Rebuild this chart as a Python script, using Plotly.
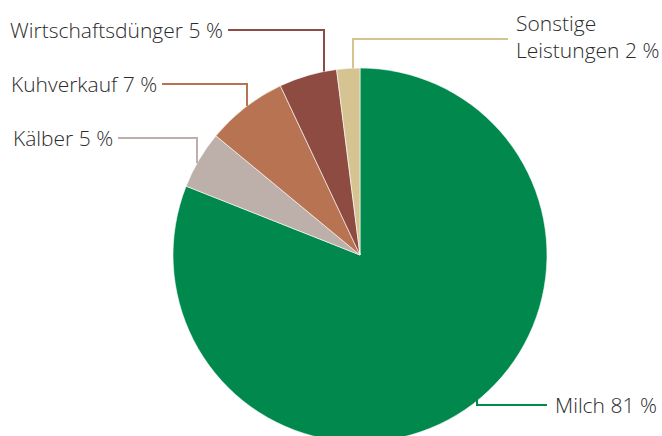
import math
import plotly.graph_objects as go

# Revenue shares (percent), clockwise from 12 o'clock
labels = ["Milch", "Kälber", "Kuhverkauf", "Wirtschaftsdünger", "Sonstige Leistungen"]
shares = [81, 5, 7, 5, 2]
label_text = ["Milch 81 %", "Kälber 5 %", "Kuhverkauf 7 %", "Wirtschaftsdünger 5 %", "Sonstige<br>Leistungen 2 %"]
colors = ["#00884d", "#bdb0aa", "#b87452", "#8e4b41", "#d5c491"]

W, H = 662, 450
CX, CY, R = 360, 255, 187  # pie centre and radius in pixels


def px(x):
    return x / W


def py(y):
    return (H - y) / H


fig = go.Figure(go.Pie(
    labels=labels,
    values=shares,
    sort=False,
    direction="clockwise",
    rotation=0,
    marker=dict(colors=colors, line=dict(color="white", width=0.6)),
    textinfo="none",
    hoverinfo="label+percent",
    domain=dict(x=[px(CX - R), px(CX + R)], y=[py(CY + R), py(CY - R)]),
    showlegend=False,
))

# Leader-line layout: (elbow x, label-row y, label x, side)
leaders = {
    "Milch": (477, 405, 547, "right"),
    "Kälber": (197, 138, 118, "left"),
    "Kuhverkauf": (247, 84, 162, "left"),
    "Wirtschaftsdünger": (324, 30, 228, "left"),
    "Sonstige Leistungen": (353, 39, 508, "right"),
}

for name, txt, col in zip(labels, label_text, colors):
    ex, ry, lx, side = leaders[name]
    # point where the vertical stub meets the pie rim
    dx = ex - CX
    dy = math.sqrt(max(R * R - dx * dx, 0))
    edge_y = CY - dy if ry < CY else ry - 6
    fig.add_shape(
        type="path",
        path=f"M {px(ex)} {py(edge_y)} L {px(ex)} {py(ry)} L {px(lx)} {py(ry)}",
        xref="paper", yref="paper",
        line=dict(color=col, width=2),
    )
    if side == "left":
        fig.add_annotation(x=px(lx - 3), y=py(ry), xref="paper", yref="paper",
                           text=txt, showarrow=False, xanchor="right", yanchor="middle",
                           align="right")
    else:
        tx = lx + 6
        ty = ry if "<br>" not in txt else ry - 2
        fig.add_annotation(x=px(tx), y=py(ty), xref="paper", yref="paper",
                           text=txt, showarrow=False, xanchor="left", yanchor="middle",
                           align="left")

fig.update_layout(
    width=W, height=H,
    margin=dict(l=0, r=0, t=0, b=0),
    paper_bgcolor="white",
    plot_bgcolor="white",
    font=dict(family="Open Sans, Lato, sans-serif", size=21, color="#2b2b2b", weight=300),
)

fig.write_html(
    "out.html",
    post_script="document.body.style.margin='0';document.body.style.overflow='hidden';",
)
